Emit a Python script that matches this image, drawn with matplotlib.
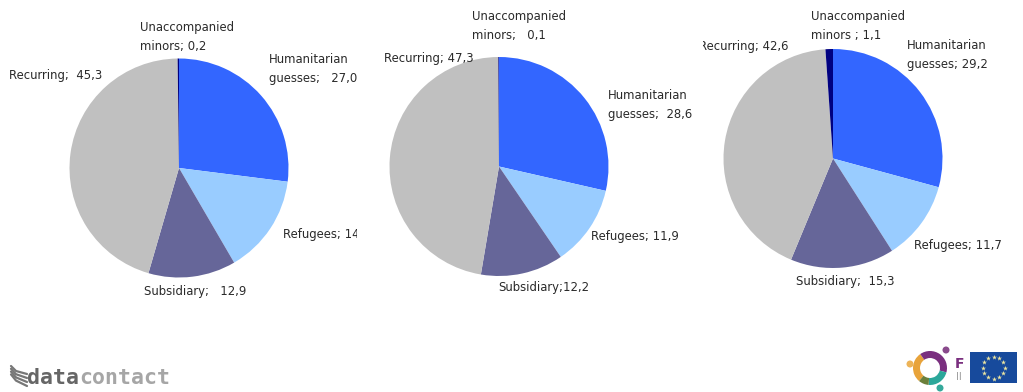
import numpy as np
import matplotlib
matplotlib.use("Agg")
import matplotlib.pyplot as plt
from matplotlib.patches import Rectangle, Wedge, Circle

# --- data ---
values_a = [27.0, 14.6, 12.9, 45.3, 0.2]
values_b = [28.6, 11.9, 12.2, 47.3, 0.1]
values_c = [29.2, 11.7, 15.3, 42.6, 1.1]
labels_a = ["Humanitarian\nguesses;   27,0", "Refugees; 14,6", "Subsidiary;   12,9", "Recurring;  45,3", "Unaccompanied\nminors; 0,2"]
labels_b = ["Humanitarian\nguesses;  28,6", "Refugees; 11,9", "Subsidiary;12,2", "Recurring; 47,3", "Unaccompanied\nminors;   0,1"]
labels_c = ["Humanitarian\nguesses; 29,2", "Refugees; 11,7", "Subsidiary;  15,3", "Recurring; 42,6", "Unaccompanied\nminors ; 1,1"]

# --- style / layout (pixels) ---
W, H = 1023, 392
colors = ["#3366FF", "#99CCFF", "#666699", "#C0C0C0", "#000080"]
TXT = "#2a2a2a"
FS = 8.4
R = 109.5
centres = [(179, 168), (499, 166.5), (833, 158.5)]
pos_a = [(269, 69), (283, 234), (144, 291), (9, 75), (140, 37)]
pos_b = [(608, 105), (591, 236), (498, 287), (384, 58), (472, 26)]
pos_c = [(907, 55), (914, 245), (796, 281), (699, 46), (811, 26)]
clips = [(0, 0, 357, H), (358, 0, 342, H), (703, 0, 320, H)]

fig = plt.figure(figsize=(W / 100, H / 100), dpi=100, facecolor="white")

for (cx, cy), vals in zip(centres, [values_a, values_b, values_c]):
    ax = fig.add_axes([(cx - R) / W, 1 - (cy + R) / H, 2 * R / W, 2 * R / H])
    ax.pie(vals, colors=colors, startangle=90, counterclock=False, radius=1,
           wedgeprops=dict(linewidth=0))
    ax.set_xlim(-1, 1)
    ax.set_ylim(-1, 1)
    ax.axis("off")

ov = fig.add_axes([0, 0, 1, 1], facecolor="none")
ov.set_xlim(0, W)
ov.set_ylim(H, 0)
ov.axis("off")

for labs, poss, clip in zip([labels_a, labels_b, labels_c], [pos_a, pos_b, pos_c], clips):
    rect = Rectangle(clip[:2], clip[2], clip[3], transform=ov.transData)
    for lab, (x, y) in zip(labs, poss):
        t = ov.text(x, y, lab, fontsize=FS, color=TXT, ha="left", va="center",
                    family="DejaVu Sans", linespacing=1.65)
        t.set_clip_path(rect)
        t.set_clip_on(True)

# --- datacontact logo ---
ov.text(27, 378, "data", family="DejaVu Sans Mono", weight="bold", fontsize=15.5,
        color="#666666", ha="left", va="center")
ov.text(79, 378, "contact", family="DejaVu Sans Mono", weight="bold", fontsize=15.5,
        color="#a6a6a6", ha="left", va="center")
for dy in [0, 4, 8, 12]:
    ov.plot([11, 16, 27], [366 + dy * 0.7, 371 + dy * 0.8, 374 + dy], color="#777777", lw=1.6,
            solid_capstyle="round")

# --- partner logo ---
cx, cy, ro, w = 930, 368, 17, 7
ov.add_patch(Wedge((cx, cy), ro, 130, 235, width=w, fc="#E8A33A", lw=0))
ov.add_patch(Wedge((cx, cy), ro, 235, 375, width=w, fc="#7A2F7F", lw=0))
ov.add_patch(Wedge((cx, cy), ro, 15, 95, width=w, fc="#2BA79A", lw=0))
ov.add_patch(Wedge((cx, cy), ro, 95, 130, width=w, fc="#6B7F3A", lw=0))
ov.add_patch(Circle((910, 364), 3.5, fc="#EDB458", lw=0))
ov.add_patch(Circle((946, 350), 3.5, fc="#8A4A8C", lw=0))
ov.add_patch(Circle((940, 388), 3.5, fc="#35A99B", lw=0))
ov.text(959, 364, "F", fontsize=10, weight="bold", color="#7A2F7F", ha="center", va="center")
ov.text(959, 377, "II", fontsize=7, color="#9a9a9a", ha="center", va="center")

# --- EU flag ---
ov.add_patch(Rectangle((970, 352), 47, 31, fc="#174A9C", lw=0))
ang = np.deg2rad(np.arange(0, 360, 30))
ov.scatter(993.5 + 11 * np.cos(ang), 367.5 + 11 * np.sin(ang), marker="*", s=14, c="#EDE6A0", linewidths=0)

fig.savefig("out.png", dpi=100, facecolor="white")
